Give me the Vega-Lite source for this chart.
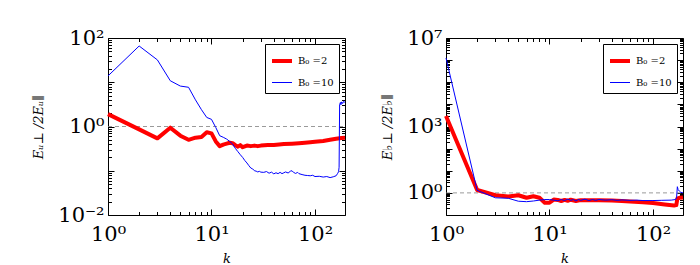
{
  "$schema": "https://vega.github.io/schema/vega-lite/v6.json",
  "padding": {"left": 32, "top": 26, "right": 5, "bottom": 3},
  "background": "white",
  "config": {
    "view": {"stroke": "black", "strokeWidth": 1},
    "axis": {
      "grid": false,
      "domain": false,
      "tickColor": "black",
      "tickWidth": 1,
      "labelColor": "black",
      "labelFont": "DejaVu Serif",
      "labelFontSize": 21,
      "labelFlush": false,
      "labelOverlap": false,
      "titleFont": "DejaVu Serif",
      "titleFontStyle": "italic",
      "titleFontWeight": "normal",
      "titleFontSize": 13,
      "titleColor": "black"
    },
    "legend": {"labelFont": "DejaVu Serif", "labelFontSize": 10, "labelColor": "black"}
  },
  "datasets": {
    "rule": [{"k": 1, "k2": 195, "v": 1}],
    "left": [
      {"k": 1, "v": 1.9, "s": "B₀ =2"},
      {"k": 2, "v": 0.86, "s": "B₀ =2"},
      {"k": 3, "v": 0.54, "s": "B₀ =2"},
      {"k": 4, "v": 0.94, "s": "B₀ =2"},
      {"k": 5, "v": 0.62, "s": "B₀ =2"},
      {"k": 6, "v": 0.5, "s": "B₀ =2"},
      {"k": 7, "v": 0.56, "s": "B₀ =2"},
      {"k": 8, "v": 0.58, "s": "B₀ =2"},
      {"k": 9, "v": 0.74, "s": "B₀ =2"},
      {"k": 10, "v": 0.7, "s": "B₀ =2"},
      {"k": 11, "v": 0.46, "s": "B₀ =2"},
      {"k": 12, "v": 0.36, "s": "B₀ =2"},
      {"k": 13, "v": 0.39, "s": "B₀ =2"},
      {"k": 14, "v": 0.41, "s": "B₀ =2"},
      {"k": 15, "v": 0.43, "s": "B₀ =2"},
      {"k": 16, "v": 0.42, "s": "B₀ =2"},
      {"k": 17, "v": 0.38, "s": "B₀ =2"},
      {"k": 18, "v": 0.35, "s": "B₀ =2"},
      {"k": 19, "v": 0.38, "s": "B₀ =2"},
      {"k": 20, "v": 0.34, "s": "B₀ =2"},
      {"k": 22, "v": 0.37, "s": "B₀ =2"},
      {"k": 24, "v": 0.36, "s": "B₀ =2"},
      {"k": 26, "v": 0.37, "s": "B₀ =2"},
      {"k": 28, "v": 0.36, "s": "B₀ =2"},
      {"k": 30, "v": 0.37, "s": "B₀ =2"},
      {"k": 35, "v": 0.38, "s": "B₀ =2"},
      {"k": 40, "v": 0.38, "s": "B₀ =2"},
      {"k": 45, "v": 0.39, "s": "B₀ =2"},
      {"k": 50, "v": 0.4, "s": "B₀ =2"},
      {"k": 60, "v": 0.41, "s": "B₀ =2"},
      {"k": 70, "v": 0.42, "s": "B₀ =2"},
      {"k": 80, "v": 0.43, "s": "B₀ =2"},
      {"k": 90, "v": 0.44, "s": "B₀ =2"},
      {"k": 100, "v": 0.45, "s": "B₀ =2"},
      {"k": 120, "v": 0.47, "s": "B₀ =2"},
      {"k": 140, "v": 0.5, "s": "B₀ =2"},
      {"k": 160, "v": 0.53, "s": "B₀ =2"},
      {"k": 180, "v": 0.55, "s": "B₀ =2"},
      {"k": 195, "v": 0.56, "s": "B₀ =2"},
      {"k": 1, "v": 13.9, "s": "B₀ =10"},
      {"k": 2, "v": 66, "s": "B₀ =10"},
      {"k": 3, "v": 32, "s": "B₀ =10"},
      {"k": 4, "v": 10.8, "s": "B₀ =10"},
      {"k": 5, "v": 8.2, "s": "B₀ =10"},
      {"k": 6, "v": 7.7, "s": "B₀ =10"},
      {"k": 7, "v": 4.0, "s": "B₀ =10"},
      {"k": 8, "v": 2.4, "s": "B₀ =10"},
      {"k": 9, "v": 1.6, "s": "B₀ =10"},
      {"k": 10, "v": 1.45, "s": "B₀ =10"},
      {"k": 11, "v": 0.95, "s": "B₀ =10"},
      {"k": 12, "v": 0.62, "s": "B₀ =10"},
      {"k": 13, "v": 0.57, "s": "B₀ =10"},
      {"k": 14, "v": 0.52, "s": "B₀ =10"},
      {"k": 15, "v": 0.46, "s": "B₀ =10"},
      {"k": 16, "v": 0.4, "s": "B₀ =10"},
      {"k": 17, "v": 0.32, "s": "B₀ =10"},
      {"k": 18, "v": 0.27, "s": "B₀ =10"},
      {"k": 19, "v": 0.23, "s": "B₀ =10"},
      {"k": 20, "v": 0.2, "s": "B₀ =10"},
      {"k": 21, "v": 0.17, "s": "B₀ =10"},
      {"k": 22, "v": 0.15, "s": "B₀ =10"},
      {"k": 23, "v": 0.13, "s": "B₀ =10"},
      {"k": 24, "v": 0.115, "s": "B₀ =10"},
      {"k": 25, "v": 0.11, "s": "B₀ =10"},
      {"k": 26, "v": 0.1, "s": "B₀ =10"},
      {"k": 27, "v": 0.098, "s": "B₀ =10"},
      {"k": 28, "v": 0.094, "s": "B₀ =10"},
      {"k": 29, "v": 0.097, "s": "B₀ =10"},
      {"k": 30, "v": 0.093, "s": "B₀ =10"},
      {"k": 32, "v": 0.092, "s": "B₀ =10"},
      {"k": 34, "v": 0.096, "s": "B₀ =10"},
      {"k": 36, "v": 0.088, "s": "B₀ =10"},
      {"k": 38, "v": 0.093, "s": "B₀ =10"},
      {"k": 40, "v": 0.085, "s": "B₀ =10"},
      {"k": 42, "v": 0.09, "s": "B₀ =10"},
      {"k": 44, "v": 0.086, "s": "B₀ =10"},
      {"k": 46, "v": 0.092, "s": "B₀ =10"},
      {"k": 48, "v": 0.086, "s": "B₀ =10"},
      {"k": 50, "v": 0.09, "s": "B₀ =10"},
      {"k": 52, "v": 0.094, "s": "B₀ =10"},
      {"k": 55, "v": 0.089, "s": "B₀ =10"},
      {"k": 58, "v": 0.098, "s": "B₀ =10"},
      {"k": 60, "v": 0.1, "s": "B₀ =10"},
      {"k": 62, "v": 0.092, "s": "B₀ =10"},
      {"k": 65, "v": 0.087, "s": "B₀ =10"},
      {"k": 68, "v": 0.092, "s": "B₀ =10"},
      {"k": 70, "v": 0.086, "s": "B₀ =10"},
      {"k": 75, "v": 0.082, "s": "B₀ =10"},
      {"k": 80, "v": 0.079, "s": "B₀ =10"},
      {"k": 85, "v": 0.078, "s": "B₀ =10"},
      {"k": 90, "v": 0.077, "s": "B₀ =10"},
      {"k": 95, "v": 0.079, "s": "B₀ =10"},
      {"k": 100, "v": 0.074, "s": "B₀ =10"},
      {"k": 110, "v": 0.075, "s": "B₀ =10"},
      {"k": 120, "v": 0.072, "s": "B₀ =10"},
      {"k": 130, "v": 0.074, "s": "B₀ =10"},
      {"k": 140, "v": 0.07, "s": "B₀ =10"},
      {"k": 150, "v": 0.073, "s": "B₀ =10"},
      {"k": 160, "v": 0.077, "s": "B₀ =10"},
      {"k": 165, "v": 0.086, "s": "B₀ =10"},
      {"k": 169, "v": 0.095, "s": "B₀ =10"},
      {"k": 171, "v": 0.12, "s": "B₀ =10"},
      {"k": 173, "v": 3.1, "s": "B₀ =10"},
      {"k": 176, "v": 3.5, "s": "B₀ =10"},
      {"k": 178, "v": 3.1, "s": "B₀ =10"},
      {"k": 181, "v": 3.6, "s": "B₀ =10"},
      {"k": 185, "v": 3.3, "s": "B₀ =10"},
      {"k": 189, "v": 3.7, "s": "B₀ =10"},
      {"k": 195, "v": 3.5, "s": "B₀ =10"}
    ],
    "right": [
      {"k": 1, "v": 3000, "s": "B₀ =2"},
      {"k": 2, "v": 1.35, "s": "B₀ =2"},
      {"k": 3, "v": 0.78, "s": "B₀ =2"},
      {"k": 4, "v": 0.68, "s": "B₀ =2"},
      {"k": 5, "v": 0.78, "s": "B₀ =2"},
      {"k": 6, "v": 0.6, "s": "B₀ =2"},
      {"k": 7, "v": 0.7, "s": "B₀ =2"},
      {"k": 8, "v": 0.6, "s": "B₀ =2"},
      {"k": 9, "v": 0.36, "s": "B₀ =2"},
      {"k": 10, "v": 0.36, "s": "B₀ =2"},
      {"k": 11, "v": 0.5, "s": "B₀ =2"},
      {"k": 12, "v": 0.48, "s": "B₀ =2"},
      {"k": 13, "v": 0.43, "s": "B₀ =2"},
      {"k": 14, "v": 0.48, "s": "B₀ =2"},
      {"k": 15, "v": 0.44, "s": "B₀ =2"},
      {"k": 16, "v": 0.49, "s": "B₀ =2"},
      {"k": 18, "v": 0.43, "s": "B₀ =2"},
      {"k": 20, "v": 0.47, "s": "B₀ =2"},
      {"k": 25, "v": 0.46, "s": "B₀ =2"},
      {"k": 30, "v": 0.47, "s": "B₀ =2"},
      {"k": 40, "v": 0.45, "s": "B₀ =2"},
      {"k": 50, "v": 0.43, "s": "B₀ =2"},
      {"k": 60, "v": 0.41, "s": "B₀ =2"},
      {"k": 80, "v": 0.38, "s": "B₀ =2"},
      {"k": 100, "v": 0.35, "s": "B₀ =2"},
      {"k": 130, "v": 0.3, "s": "B₀ =2"},
      {"k": 160, "v": 0.27, "s": "B₀ =2"},
      {"k": 168, "v": 0.28, "s": "B₀ =2"},
      {"k": 172, "v": 0.55, "s": "B₀ =2"},
      {"k": 180, "v": 0.6, "s": "B₀ =2"},
      {"k": 195, "v": 0.62, "s": "B₀ =2"},
      {"k": 1, "v": 1250000, "s": "B₀ =10"},
      {"k": 2, "v": 1.3, "s": "B₀ =10"},
      {"k": 3, "v": 0.6, "s": "B₀ =10"},
      {"k": 4, "v": 0.57, "s": "B₀ =10"},
      {"k": 5, "v": 0.42, "s": "B₀ =10"},
      {"k": 6, "v": 0.4, "s": "B₀ =10"},
      {"k": 7, "v": 0.43, "s": "B₀ =10"},
      {"k": 8, "v": 0.47, "s": "B₀ =10"},
      {"k": 9, "v": 0.5, "s": "B₀ =10"},
      {"k": 10, "v": 0.5, "s": "B₀ =10"},
      {"k": 11, "v": 0.47, "s": "B₀ =10"},
      {"k": 12, "v": 0.44, "s": "B₀ =10"},
      {"k": 13, "v": 0.5, "s": "B₀ =10"},
      {"k": 14, "v": 0.45, "s": "B₀ =10"},
      {"k": 15, "v": 0.52, "s": "B₀ =10"},
      {"k": 16, "v": 0.46, "s": "B₀ =10"},
      {"k": 17, "v": 0.5, "s": "B₀ =10"},
      {"k": 18, "v": 0.43, "s": "B₀ =10"},
      {"k": 19, "v": 0.5, "s": "B₀ =10"},
      {"k": 20, "v": 0.46, "s": "B₀ =10"},
      {"k": 22, "v": 0.52, "s": "B₀ =10"},
      {"k": 24, "v": 0.45, "s": "B₀ =10"},
      {"k": 26, "v": 0.5, "s": "B₀ =10"},
      {"k": 28, "v": 0.46, "s": "B₀ =10"},
      {"k": 30, "v": 0.5, "s": "B₀ =10"},
      {"k": 35, "v": 0.47, "s": "B₀ =10"},
      {"k": 40, "v": 0.49, "s": "B₀ =10"},
      {"k": 45, "v": 0.46, "s": "B₀ =10"},
      {"k": 50, "v": 0.48, "s": "B₀ =10"},
      {"k": 60, "v": 0.46, "s": "B₀ =10"},
      {"k": 70, "v": 0.47, "s": "B₀ =10"},
      {"k": 80, "v": 0.45, "s": "B₀ =10"},
      {"k": 100, "v": 0.45, "s": "B₀ =10"},
      {"k": 120, "v": 0.46, "s": "B₀ =10"},
      {"k": 150, "v": 0.47, "s": "B₀ =10"},
      {"k": 165, "v": 0.5, "s": "B₀ =10"},
      {"k": 169, "v": 0.6, "s": "B₀ =10"},
      {"k": 172, "v": 1.9, "s": "B₀ =10"},
      {"k": 175, "v": 1.4, "s": "B₀ =10"},
      {"k": 180, "v": 1.2, "s": "B₀ =10"},
      {"k": 186, "v": 1.05, "s": "B₀ =10"},
      {"k": 195, "v": 1.0, "s": "B₀ =10"}
    ]
  },
  "hconcat": [
    {
      "width": 237,
      "height": 177,
      "layer": [
        {
          "data": {"name": "rule"},
          "mark": {"type": "rule", "color": "#808080", "strokeDash": [4, 3], "strokeWidth": 0.8},
          "encoding": {
            "x": {"field": "k", "type": "quantitative", "scale": {"type": "log", "domain": [1, 195], "nice": false},
              "axis": {"orient": "top", "title": null, "labels": false, "values": [1,10,100], "tickSize": -6}},
            "x2": {"field": "k2"},
            "y": {"field": "v", "type": "quantitative", "scale": {"type": "log", "domain": [0.01, 100], "nice": false},
              "axis": {"orient": "right", "title": null, "labels": false, "values": [0.01,0.1,1,10,100], "tickSize": -6}}
          }
        },
        {
          "data": {"name": "rule"},
          "mark": {"type": "rule", "opacity": 0},
          "encoding": {
            "x": {"field": "k", "type": "quantitative", "scale": {"type": "log", "domain": [1, 195], "nice": false},
              "axis": {"orient": "top", "title": null, "labels": false, "values": [2,3,4,5,6,7,8,9,20,30,40,50,60,70,80,90], "tickSize": -3.5}},
            "x2": {"field": "k2"},
            "y": {"field": "v", "type": "quantitative", "scale": {"type": "log", "domain": [0.01, 100], "nice": false},
              "axis": {"orient": "right", "title": null, "labels": false, "values": [0.02,0.03,0.04,0.05,0.06,0.07,0.08,0.09,0.2,0.3,0.4,0.5,0.6,0.7,0.8,0.9,2,3,4,5,6,7,8,9,20,30,40,50,60,70,80,90], "tickSize": -3.5}}
          }
        },
        {
          "data": {"name": "rule"},
          "mark": {"type": "rule", "opacity": 0},
          "encoding": {
            "x": {"field": "k", "type": "quantitative", "scale": {"type": "log", "domain": [1, 195], "nice": false},
              "axis": {"orient": "bottom", "title": null, "labels": false, "values": [1,10,100], "tickSize": -6}},
            "x2": {"field": "k2"},
            "y": {"field": "v", "type": "quantitative", "scale": {"type": "log", "domain": [0.01, 100], "nice": false},
              "axis": {"orient": "left", "title": null, "labels": false, "values": [0.01,0.1,1,10,100], "tickSize": -6}}
          }
        },
        {
          "data": {"name": "rule"},
          "mark": {"type": "rule", "opacity": 0},
          "encoding": {
            "x": {"field": "k", "type": "quantitative", "scale": {"type": "log", "domain": [1, 195], "nice": false},
              "axis": {"orient": "bottom", "title": null, "labels": false, "values": [2,3,4,5,6,7,8,9,20,30,40,50,60,70,80,90], "tickSize": -3.5}},
            "x2": {"field": "k2"},
            "y": {"field": "v", "type": "quantitative", "scale": {"type": "log", "domain": [0.01, 100], "nice": false},
              "axis": {"orient": "left", "title": null, "labels": false, "values": [0.02,0.03,0.04,0.05,0.06,0.07,0.08,0.09,0.2,0.3,0.4,0.5,0.6,0.7,0.8,0.9,2,3,4,5,6,7,8,9,20,30,40,50,60,70,80,90], "tickSize": -3.5}}
          }
        },
        {
          "data": {"name": "left"},
          "mark": {"type": "line", "strokeCap": "butt", "strokeJoin": "round"},
          "encoding": {
            "x": {"field": "k", "type": "quantitative", "scale": {"type": "log", "domain": [1, 195], "nice": false},
              "axis": {"orient": "bottom", "title": "k", "ticks": false, "tickSize": 0, "labelPadding": 8, "titlePadding": 8,
                "values": [1,10,100],
                "labelExpr": "datum.value==1?'10⁰':datum.value==10?'10¹':datum.value==100?'10²':''"}},
            "y": {"field": "v", "type": "quantitative", "scale": {"type": "log", "domain": [0.01, 100], "nice": false},
              "axis": {"orient": "left", "title": "Eᵤ⊥ /2Eᵤ∥", "ticks": false, "tickSize": 0, "labelPadding": 4, "titlePadding": 12,
                "values": [0.01,1,100],
                "labelExpr": "datum.value==0.01?'10⁻²':datum.value==1?'10⁰':datum.value==100?'10²':''"}},
            "color": {"field": "s", "type": "nominal", "sort": null,
              "scale": {"domain": ["B₀ =2", "B₀ =10"], "range": ["#ff0000", "#0000ff"]},
              "legend": {"title": null, "orient": "top-right", "offset": 6, "strokeColor": "black", "fillColor": "white", "padding": 5, "symbolType": "stroke", "symbolSize": 400, "rowPadding": 3}},
            "strokeWidth": {"field": "s", "type": "nominal",
              "scale": {"domain": ["B₀ =2", "B₀ =10"], "range": [4, 1]},
              "legend": {"title": null, "orient": "top-right", "offset": 6, "strokeColor": "black", "fillColor": "white", "padding": 5, "symbolType": "stroke", "symbolSize": 400, "rowPadding": 3}}
          }
        }
      ],
      "resolve": {"axis": {"x": "independent", "y": "independent"}}
    },
    {
      "width": 237,
      "height": 177,
      "layer": [
        {
          "data": {"name": "rule"},
          "mark": {"type": "rule", "color": "#808080", "strokeDash": [4, 3], "strokeWidth": 0.8},
          "encoding": {
            "x": {"field": "k", "type": "quantitative", "scale": {"type": "log", "domain": [1, 195], "nice": false},
              "axis": {"orient": "top", "title": null, "labels": false, "values": [1,10,100], "tickSize": -6}},
            "x2": {"field": "k2"},
            "y": {"field": "v", "type": "quantitative", "scale": {"type": "log", "domain": [0.1, 10000000], "nice": false},
              "axis": {"orient": "right", "title": null, "labels": false, "values": [0.1,1,10,100,1000,10000,100000,1000000,10000000], "tickSize": -6}}
          }
        },
        {
          "data": {"name": "rule"},
          "mark": {"type": "rule", "opacity": 0},
          "encoding": {
            "x": {"field": "k", "type": "quantitative", "scale": {"type": "log", "domain": [1, 195], "nice": false},
              "axis": {"orient": "top", "title": null, "labels": false, "values": [2,3,4,5,6,7,8,9,20,30,40,50,60,70,80,90], "tickSize": -3.5}},
            "x2": {"field": "k2"},
            "y": {"field": "v", "type": "quantitative", "scale": {"type": "log", "domain": [0.1, 10000000], "nice": false},
              "axis": {"orient": "right", "title": null, "labels": false, "values": [0.2,0.3,0.4,0.5,0.6,0.7,0.8,0.9,2,3,4,5,6,7,8,9,20,30,40,50,60,70,80,90,200,300,400,500,600,700,800,900,2000,3000,4000,5000,6000,7000,8000,9000,20000,30000,40000,50000,60000,70000,80000,90000,200000,300000,400000,500000,600000,700000,800000,900000,2000000,3000000,4000000,5000000,6000000,7000000,8000000,9000000], "tickSize": -3.5}}
          }
        },
        {
          "data": {"name": "rule"},
          "mark": {"type": "rule", "opacity": 0},
          "encoding": {
            "x": {"field": "k", "type": "quantitative", "scale": {"type": "log", "domain": [1, 195], "nice": false},
              "axis": {"orient": "bottom", "title": null, "labels": false, "values": [1,10,100], "tickSize": -6}},
            "x2": {"field": "k2"},
            "y": {"field": "v", "type": "quantitative", "scale": {"type": "log", "domain": [0.1, 10000000], "nice": false},
              "axis": {"orient": "left", "title": null, "labels": false, "values": [0.1,1,10,100,1000,10000,100000,1000000,10000000], "tickSize": -6}}
          }
        },
        {
          "data": {"name": "rule"},
          "mark": {"type": "rule", "opacity": 0},
          "encoding": {
            "x": {"field": "k", "type": "quantitative", "scale": {"type": "log", "domain": [1, 195], "nice": false},
              "axis": {"orient": "bottom", "title": null, "labels": false, "values": [2,3,4,5,6,7,8,9,20,30,40,50,60,70,80,90], "tickSize": -3.5}},
            "x2": {"field": "k2"},
            "y": {"field": "v", "type": "quantitative", "scale": {"type": "log", "domain": [0.1, 10000000], "nice": false},
              "axis": {"orient": "left", "title": null, "labels": false, "values": [0.2,0.3,0.4,0.5,0.6,0.7,0.8,0.9,2,3,4,5,6,7,8,9,20,30,40,50,60,70,80,90,200,300,400,500,600,700,800,900,2000,3000,4000,5000,6000,7000,8000,9000,20000,30000,40000,50000,60000,70000,80000,90000,200000,300000,400000,500000,600000,700000,800000,900000,2000000,3000000,4000000,5000000,6000000,7000000,8000000,9000000], "tickSize": -3.5}}
          }
        },
        {
          "data": {"name": "right"},
          "mark": {"type": "line", "strokeCap": "butt", "strokeJoin": "round"},
          "encoding": {
            "x": {"field": "k", "type": "quantitative", "scale": {"type": "log", "domain": [1, 195], "nice": false},
              "axis": {"orient": "bottom", "title": "k", "ticks": false, "tickSize": 0, "labelPadding": 8, "titlePadding": 8,
                "values": [1,10,100],
                "labelExpr": "datum.value==1?'10⁰':datum.value==10?'10¹':datum.value==100?'10²':''"}},
            "y": {"field": "v", "type": "quantitative", "scale": {"type": "log", "domain": [0.1, 10000000], "nice": false},
              "axis": {"orient": "left", "title": "E♭⊥ /2E♭∥", "ticks": false, "tickSize": 0, "labelPadding": 4, "titlePadding": 12,
                "values": [1,1000,10000000],
                "labelExpr": "datum.value==1?'10⁰':datum.value==1000?'10³':datum.value==10000000?'10⁷':''"}},
            "color": {"field": "s", "type": "nominal", "sort": null,
              "scale": {"domain": ["B₀ =2", "B₀ =10"], "range": ["#ff0000", "#0000ff"]},
              "legend": {"title": null, "orient": "top-right", "offset": 6, "strokeColor": "black", "fillColor": "white", "padding": 5, "symbolType": "stroke", "symbolSize": 400, "rowPadding": 3}},
            "strokeWidth": {"field": "s", "type": "nominal",
              "scale": {"domain": ["B₀ =2", "B₀ =10"], "range": [4, 1]},
              "legend": {"title": null, "orient": "top-right", "offset": 6, "strokeColor": "black", "fillColor": "white", "padding": 5, "symbolType": "stroke", "symbolSize": 400, "rowPadding": 3}}
          }
        }
      ],
      "resolve": {"axis": {"x": "independent", "y": "independent"}}
    }
  ],
  "spacing": 33,
  "resolve": {"scale": {"color": "independent", "strokeWidth": "independent"}, "legend": {"color": "independent", "strokeWidth": "independent"}}
}
